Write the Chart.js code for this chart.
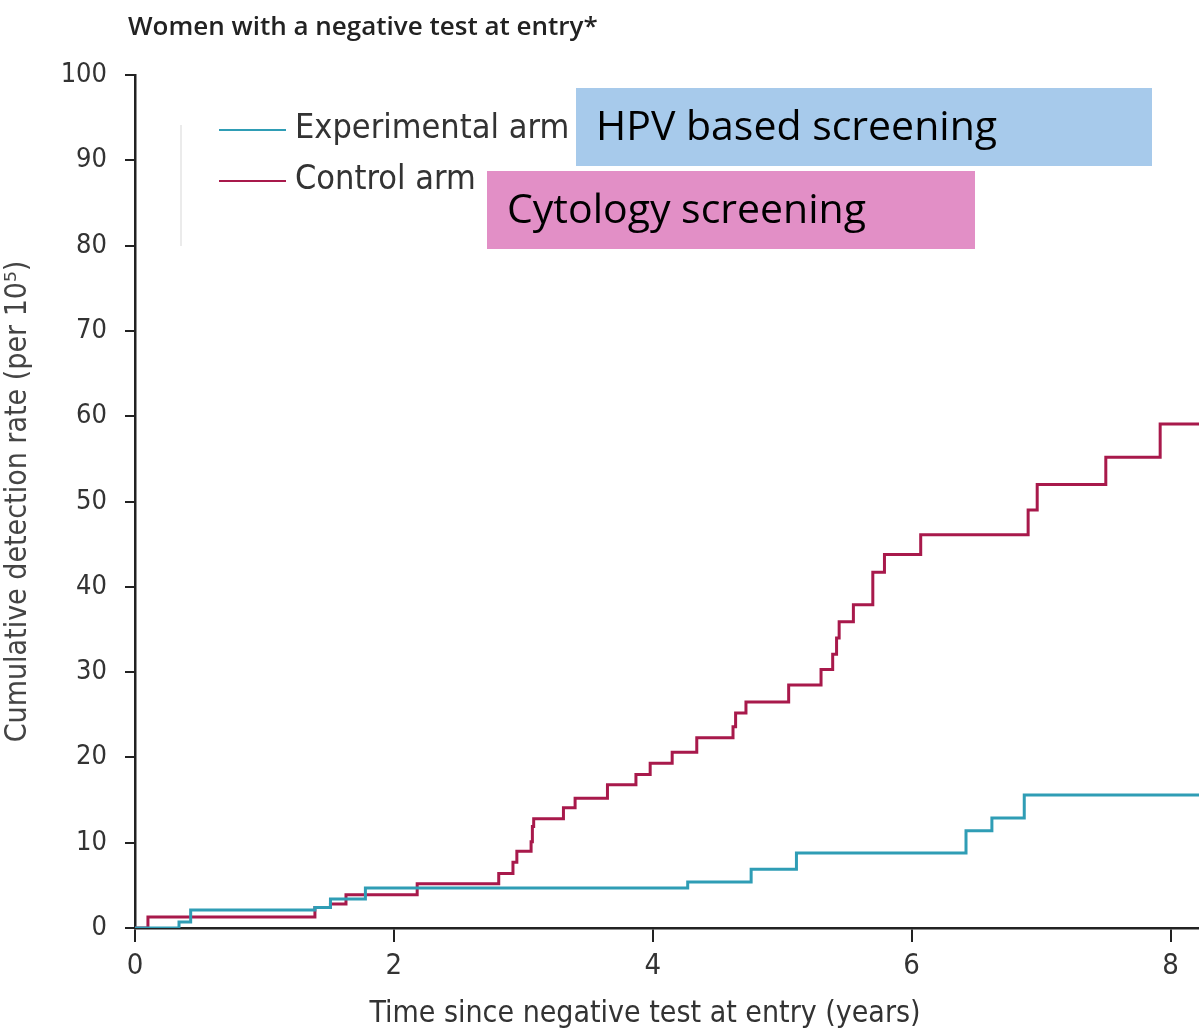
<!DOCTYPE html>
<html>
<head>
<meta charset="utf-8">
<script src="https://cdn.jsdelivr.net/npm/chart.js@4.4.1/dist/chart.umd.min.js"></script>
<style>
  html, body { margin: 0; padding: 0; background: #fff; }
  #wrap { width: 1199px; height: 1035px; position: relative; }
</style>
</head>
<body>
<div id="wrap"><canvas id="myChart" width="1199" height="1035"></canvas></div>
<script>
'use strict';

// step times (years) and cumulative rate after each step (per 10^5)
let expTimes = [0, 0.34, 0.43, 1.39, 1.51, 1.78, 4.27, 4.76, 5.11, 6.42, 6.62, 6.87, 8.22];
let expRates = [0, 0.7, 2.1, 2.4, 3.4, 4.7, 5.4, 6.9, 8.8, 11.4, 12.9, 15.6, 15.6];

let ctrlTimes = [0, 0.10, 1.39, 1.51, 1.63, 2.18, 2.81, 2.92, 2.95, 3.06, 3.07, 3.08, 3.31, 3.40, 3.65,
  3.87, 3.98, 4.15, 4.34, 4.62, 4.64, 4.72, 5.05, 5.30, 5.39, 5.42, 5.44, 5.55, 5.70, 5.79, 6.07,
  6.90, 6.97, 7.50, 7.92, 8.22];
let ctrlRates = [0, 1.3, 2.4, 2.8, 3.9, 5.2, 6.4, 7.7, 9.0, 10.1, 11.9, 12.8, 14.1, 15.2, 16.8,
  18.0, 19.3, 20.6, 22.3, 23.6, 25.2, 26.5, 28.5, 30.3, 32.1, 34.0, 35.9, 37.9, 41.7, 43.8, 46.1,
  49.0, 52.0, 55.2, 59.1, 59.1];

let xTicks = [0, 2, 4, 6, 8];
let yTicks = [0, 10, 20, 30, 40, 50, 60, 70, 80, 90, 100];

let seriesNames = ['Experimental arm', 'Control arm'];
let boxLabels = ['HPV based screening', 'Cytology screening'];
let xTitle = 'Time since negative test at entry (years)';

let tealColor = '#2f9db5';
let redColor = '#a8194b';
let narrow = "'Liberation Sans Narrow', 'DejaVu Sans Condensed', sans-serif";

function toPoints(times, rates) {
  let pts = [];
  for (let i = 0; i < times.length; i++) {
    pts.push({ x: times[i], y: rates[i] });
  }
  return pts;
}

let extras = {
  id: 'extras',
  afterDraw(chart) {
    let ctx = chart.ctx;
    ctx.save();
    // title
    ctx.fillStyle = '#222';
    ctx.font = "600 26px 'Open Sans', sans-serif";
    ctx.textBaseline = 'middle';
    ctx.textAlign = 'left';
    ctx.fillText('Women with a negative test at entry*', 128, 28);

    // faint legend frame line
    ctx.strokeStyle = '#e4e4e4';
    ctx.lineWidth = 1.5;
    ctx.beginPath();
    ctx.moveTo(181, 125);
    ctx.lineTo(181, 246);
    ctx.stroke();

    // legend
    let colors = [tealColor, redColor];
    let ys = [130, 181];
    ctx.font = '34px ' + narrow;
    for (let i = 0; i < 2; i++) {
      ctx.strokeStyle = colors[i];
      ctx.lineWidth = 2;
      ctx.beginPath();
      ctx.moveTo(219, ys[i]);
      ctx.lineTo(286, ys[i]);
      ctx.stroke();
      ctx.fillStyle = '#333';
      ctx.fillText(seriesNames[i], 295, ys[i] - 1);
    }

    // annotation boxes
    ctx.fillStyle = '#a7caeb';
    ctx.fillRect(576, 88, 576, 78);
    ctx.fillStyle = '#e28fc6';
    ctx.fillRect(487, 171, 488, 78);
    ctx.fillStyle = '#000';
    ctx.font = "41px 'Open Sans', sans-serif";
    ctx.fillText(boxLabels[0], 596, 128);
    ctx.fillText(boxLabels[1], 507, 211);

    // x axis title
    ctx.fillStyle = '#333';
    ctx.font = '30px ' + narrow;
    ctx.textAlign = 'center';
    ctx.fillText(xTitle, 645, 1014);
    ctx.restore();
  }
};

let ctx = document.getElementById('myChart');
let myChart = new Chart(ctx, {
  type: 'line',
  data: {
    datasets: [{
      label: seriesNames[0],
      data: toPoints(expTimes, expRates),
      borderColor: tealColor,
      borderWidth: 3,
      stepped: true,
      pointRadius: 0,
      fill: false
    },
    {
      label: seriesNames[1],
      data: toPoints(ctrlTimes, ctrlRates),
      borderColor: redColor,
      borderWidth: 3,
      stepped: true,
      pointRadius: 0,
      fill: false
    }]
  },
  options: {
    responsive: false,
    animation: false,
    layout: { padding: { top: 75, left: 0, right: 0, bottom: 0 } },
    plugins: {
      legend: { display: false },
      tooltip: { enabled: false }
    },
    scales: {
      x: {
        type: 'linear',
        min: 0,
        max: 8.22,
        afterBuildTicks(scale) {
          scale.ticks = xTicks.map(v => ({ value: v }));
        },
        afterFit(scale) {
          scale.height = 107;
        },
        ticks: {
          color: '#333',
          font: { size: 29, family: narrow },
          padding: 7,
          maxRotation: 0
        },
        grid: {
          drawOnChartArea: false,
          color: '#222',
          lineWidth: 2,
          tickLength: 14
        },
        border: { color: '#222', width: 2.5 }
      },
      y: {
        min: 0,
        max: 100,
        afterBuildTicks(scale) {
          scale.ticks = yTicks.map(v => ({ value: v }));
        },
        afterFit(scale) {
          scale.width = 135;
        },
        ticks: {
          color: '#333',
          font: { size: 27, family: narrow },
          padding: 18
        },
        grid: {
          drawOnChartArea: false,
          color: '#222',
          lineWidth: 2,
          tickLength: 10
        },
        border: { color: '#222', width: 2.5 },
        title: {
          display: true,
          text: 'Cumulative detection rate (per 10\u2075)',
          color: '#444',
          font: { size: 30, family: narrow },
          padding: { top: 0, bottom: 0 }
        }
      }
    }
  },
  plugins: [extras]
});
</script>
</body>
</html>
